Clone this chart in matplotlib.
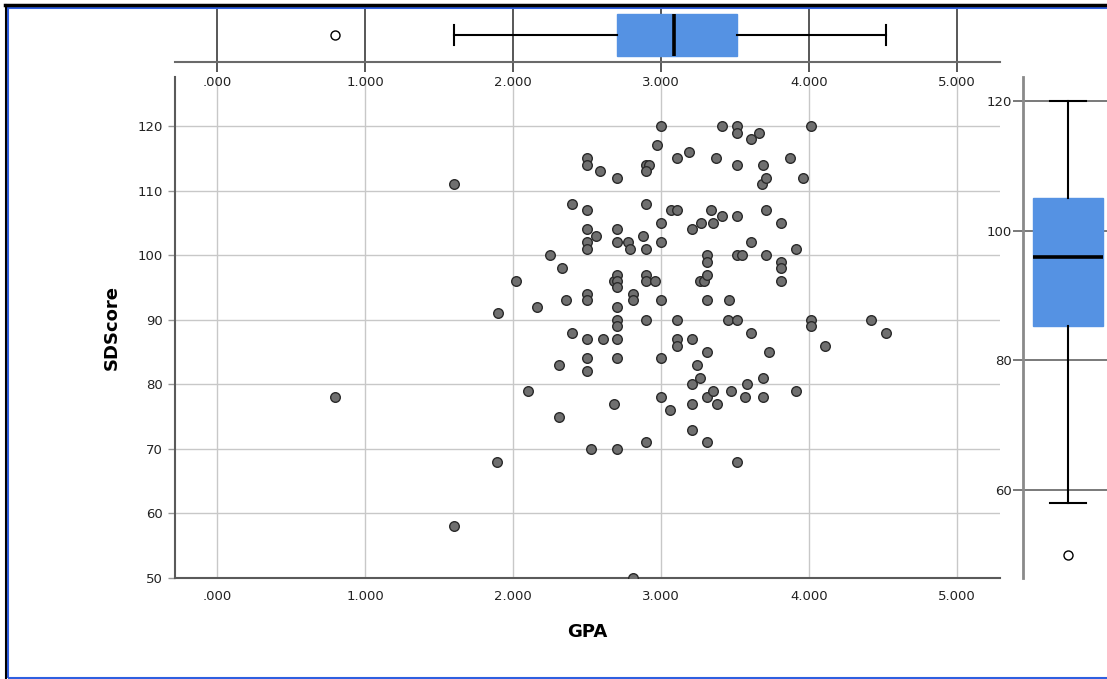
import matplotlib
matplotlib.use("Agg")
import matplotlib.pyplot as plt
from matplotlib.lines import Line2D
import numpy as np

# GPA / SDScore pairs
gpa = [0.80, 1.60, 1.60, 1.90, 1.89, 2.02, 2.10, 2.16, 2.25, 2.31,
       2.31, 2.33, 2.36, 2.40, 2.40, 2.50, 2.50, 2.50, 2.50, 2.50,
       2.50, 2.50, 2.50, 2.50, 2.50, 2.50, 2.53, 2.56, 2.59, 2.61,
       2.68, 2.68, 2.70, 2.70, 2.70, 2.70, 2.70, 2.70, 2.70, 2.70,
       2.70, 2.70, 2.70, 2.70, 2.78, 2.79, 2.81, 2.81, 2.81, 2.88,
       2.90, 2.92, 2.90, 2.90, 2.90, 2.90, 2.90, 2.90, 2.90, 2.96,
       2.97, 3.00, 3.00, 3.00, 3.00, 3.00, 3.00, 3.06, 3.07, 3.11,
       3.11, 3.11, 3.11, 3.11, 3.19, 3.21, 3.21, 3.21, 3.21, 3.21,
       3.24, 3.26, 3.26, 3.27, 3.29, 3.31, 3.31, 3.31, 3.31, 3.31,
       3.31, 3.31, 3.34, 3.35, 3.35, 3.37, 3.38, 3.41, 3.41, 3.45,
       3.46, 3.47, 3.51, 3.51, 3.51, 3.51, 3.51, 3.51, 3.51, 3.55,
       3.57, 3.58, 3.61, 3.61, 3.61, 3.66, 3.68, 3.69, 3.69, 3.69,
       3.71, 3.71, 3.71, 3.73, 3.81, 3.81, 3.81, 3.81, 3.87, 3.91,
       3.91, 3.96, 4.01, 4.01, 4.01, 4.11, 4.42, 4.52]
sdscore = [78, 111, 58, 91, 68, 96, 79, 92, 100, 83,
           75, 98, 93, 108, 88, 115, 114, 107, 104, 102,
           101, 94, 93, 87, 84, 82, 70, 103, 113, 87,
           96, 77, 112, 104, 102, 97, 96, 95, 92, 90,
           89, 87, 84, 70, 102, 101, 94, 93, 50, 103,
           114, 114, 113, 108, 101, 97, 96, 90, 71, 96,
           117, 120, 105, 102, 93, 84, 78, 76, 107, 107,
           115, 90, 87, 86, 116, 104, 87, 80, 77, 73,
           83, 81, 96, 105, 96, 100, 99, 97, 93, 85,
           78, 71, 107, 105, 79, 115, 77, 120, 106, 90,
           93, 79, 120, 119, 114, 106, 100, 90, 68, 100,
           78, 80, 118, 102, 88, 119, 111, 114, 81, 78,
           112, 107, 100, 85, 105, 99, 98, 96, 115, 101,
           79, 112, 120, 90, 89, 86, 90, 88]

x_ticks = [0, 1, 2, 3, 4, 5]
x_labels = [".000", "1.000", "2.000", "3.000", "4.000", "5.000"]
y_ticks = [50, 60, 70, 80, 90, 100, 110, 120]
box_ticks = [60, 80, 100, 120]

W, H = 1107, 679
fig = plt.figure(figsize=(W / 100, H / 100), dpi=100)
plt.rcParams["font.family"] = "DejaVu Sans"


def fpos(x0, y0, x1, y1):
    # pixel box (top-left origin) -> figure fraction
    return [x0 / W, 1 - y1 / H, (x1 - x0) / W, (y1 - y0) / H]


box_blue = "#5592e3"
bp_style = dict(
    patch_artist=True,
    boxprops=dict(facecolor=box_blue, edgecolor=box_blue, linewidth=1),
    medianprops=dict(color="black", linewidth=2.6),
    whiskerprops=dict(color="black", linewidth=1.5),
    capprops=dict(color="black", linewidth=1.5),
    flierprops=dict(marker="o", markerfacecolor="white",
                    markeredgecolor="black", markersize=6.5, markeredgewidth=1),
)

# main scatter
ax = fig.add_axes(fpos(175, 77, 1000, 578))
ax.scatter(gpa, sdscore, s=48, facecolor="#6f6f6f", edgecolor="#2a2a2a",
           linewidth=1, zorder=3)
ax.set_xlim(-0.284, 5.29)
ax.set_ylim(50, 127.6)
ax.set_xticks(x_ticks)
ax.set_xticklabels(x_labels)
ax.set_yticks(y_ticks)
ax.grid(True, color="#c8c8c8", linewidth=1, zorder=0)
ax.set_axisbelow(True)
for s in ["top", "right"]:
    ax.spines[s].set_visible(False)
for s in ["left", "bottom"]:
    ax.spines[s].set_color("#5a5a5a")
    ax.spines[s].set_linewidth(1.5)
ax.tick_params(axis="x", length=0, pad=9, labelsize=9.5, colors="#222222")
ax.tick_params(axis="y", length=5, width=1, color="#999999", pad=4,
               labelsize=9.5, labelcolor="#222222")
ax.set_xlabel("GPA", fontsize=13, fontweight="bold", labelpad=14)
ax.set_ylabel("SDScore", fontsize=13, fontweight="bold", labelpad=12)

# top box plot (GPA)
axt = fig.add_axes(fpos(175, 8, 1000, 62), sharex=ax)
axt.boxplot(gpa, positions=[1], widths=0.76, orientation="horizontal", **bp_style)
axt.set_ylim(0.5, 1.5)
axt.set_yticks([])
axt.set_xticks(x_ticks)
axt.set_xticklabels(x_labels)
axt.grid(True, axis="x", color="#2a2a2a", linewidth=1.1)
axt.set_axisbelow(True)
for s in ["top", "right", "left"]:
    axt.spines[s].set_visible(False)
axt.spines["bottom"].set_color("#6a6a6a")
axt.spines["bottom"].set_linewidth(1.5)
axt.tick_params(axis="x", length=7, width=1.1, color="#2a2a2a", pad=3,
                labelsize=9.5, labelcolor="#222222", labelbottom=True)

# right box plot (SDScore)
axr = fig.add_axes(fpos(1023, 77, 1113, 578))
axr.boxplot(sdscore, positions=[1], widths=0.78, **bp_style)
axr.set_xlim(0.5, 1.5)
axr.set_ylim(46.4, 123.7)
axr.set_xticks([])
axr.set_yticks(box_ticks)
axr.grid(True, axis="y", color="#555555", linewidth=1.1)
axr.set_axisbelow(True)
for s in ["top", "right", "bottom"]:
    axr.spines[s].set_visible(False)
axr.spines["left"].set_color("#8a8a8a")
axr.spines["left"].set_linewidth(2)
axr.tick_params(axis="y", length=7, width=1.1, color="#555555", pad=1,
                labelsize=9.5, labelcolor="#222222")

# window frame
fig.add_artist(Line2D([5 / W, 1], [1 - 4.5 / H, 1 - 4.5 / H], color="black",
                      linewidth=2.5, transform=fig.transFigure))
fig.add_artist(Line2D([5.5 / W, 5.5 / W], [0, 1 - 4.5 / H], color="black",
                      linewidth=1.5, transform=fig.transFigure))
fig.add_artist(plt.Rectangle((7.5 / W, 1 / H), 1.2, 1 - 8.5 / H, fill=False,
                             edgecolor="#2f5fe0", linewidth=1.5,
                             transform=fig.transFigure))

fig.savefig("out.png", dpi=100)
